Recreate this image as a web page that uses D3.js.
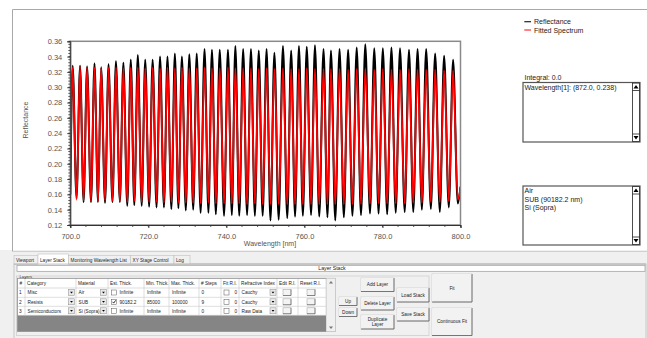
<!DOCTYPE html>
<html><head><meta charset="utf-8">
<script src="https://cdn.jsdelivr.net/npm/d3@7"></script>
<style>html,body{margin:0;padding:0;background:#fff;overflow:hidden}svg{display:block;font-family:"Liberation Sans",Arial,sans-serif}</style>
</head><body><svg id="c" width="647" height="338"></svg>
<script>
// ---------- data ----------
const seriesNames = ["Reflectance", "Fitted Spectrum"];
const xTicks = [700, 720, 740, 760, 780, 800];
const yTicks = [0.12, 0.14, 0.16, 0.18, 0.20, 0.22, 0.24, 0.26, 0.28, 0.30, 0.32, 0.34, 0.36];
const edgeWl = [700.0, 800.0];
const reflEdge = [0.160, 0.170];
const fitEdge = [0.172, 0.168];
const peakWl = [700.6,702.5,704.3,706.2,707.9,709.8,711.7,713.6,715.5,717.3,719.2,721.1,723.0,724.9,726.8,728.6,730.5,732.4,734.4,736.3,738.3,740.4,742.3,744.3,746.3,748.3,750.3,752.3,754.5,756.6,758.6,760.6,762.7,764.9,766.8,769.0,771.2,773.4,775.6,777.9,780.1,782.3,784.5,786.8,789.0,791.2,793.5,795.8,798.1];
const troughWl = [701.6,703.4,705.3,707.1,708.9,710.8,712.7,714.6,716.4,718.3,720.2,722.1,724.0,725.9,727.7,729.6,731.5,733.4,735.4,737.3,739.4,741.4,743.3,745.3,747.3,749.3,751.3,753.4,755.6,757.6,759.6,761.7,763.8,765.9,767.9,770.1,772.3,774.5,776.8,779.0,781.2,783.4,785.7,787.9,790.1,792.4,794.7,797.0,799.3];
const reflPeak = [0.328,0.328,0.327,0.331,0.326,0.330,0.334,0.332,0.336,0.342,0.336,0.336,0.340,0.340,0.344,0.340,0.343,0.344,0.350,0.349,0.349,0.349,0.354,0.350,0.350,0.348,0.350,0.345,0.354,0.348,0.354,0.353,0.355,0.350,0.348,0.350,0.349,0.352,0.356,0.351,0.351,0.352,0.351,0.349,0.350,0.350,0.344,0.341,0.336];
const reflTrough = [0.155,0.150,0.150,0.150,0.149,0.150,0.150,0.145,0.146,0.145,0.144,0.143,0.143,0.141,0.142,0.139,0.140,0.136,0.136,0.134,0.132,0.133,0.132,0.133,0.132,0.132,0.126,0.127,0.129,0.131,0.132,0.133,0.131,0.130,0.126,0.130,0.132,0.133,0.135,0.135,0.134,0.136,0.137,0.137,0.140,0.141,0.137,0.143,0.148];
const fitPeak = [0.326,0.327,0.326,0.326,0.325,0.326,0.326,0.325,0.326,0.326,0.325,0.326,0.325,0.326,0.325,0.326,0.325,0.325,0.326,0.325,0.325,0.326,0.325,0.325,0.325,0.324,0.325,0.324,0.325,0.324,0.324,0.325,0.324,0.324,0.324,0.324,0.323,0.324,0.324,0.323,0.324,0.323,0.323,0.324,0.323,0.323,0.323,0.322,0.322];
const fitTrough = [0.153,0.152,0.151,0.151,0.152,0.151,0.151,0.150,0.151,0.150,0.150,0.150,0.149,0.150,0.149,0.149,0.149,0.148,0.149,0.148,0.148,0.148,0.148,0.147,0.148,0.147,0.147,0.147,0.147,0.147,0.147,0.147,0.147,0.147,0.147,0.147,0.147,0.147,0.148,0.148,0.148,0.148,0.148,0.149,0.149,0.150,0.150,0.151,0.153];

const integralText = "Integral: 0.0";
const cursorLines = ["Wavelength[1]: (872.0, 0.238)"];
const stackLines = ["Air", "SUB (90182.2 nm)", "Si (Sopra)"];
const tabNames = ["Viewport", "Layer Stack", "Monitoring Wavelength List", "XY Stage Control", "Log"];
const tableHeaders = ["#","Category","Material","Est. Thick.","Min. Thick.","Max. Thick.","# Steps","Fit R.I.","Refractive Index","Edit R.I.","Reset R.I."];
const layerNum = ["1","2","3"];
const layerCategory = ["Misc","Resists","Semiconductors"];
const layerMaterial = ["Air","SUB","Si (Sopra)"];
const layerEstChecked = [false,true,false];
const layerEst = ["Infinite","90182.2","Infinite"];
const layerMin = ["Infinite","85000","Infinite"];
const layerMax = ["Infinite","100000","Infinite"];
const layerSteps = ["0","9","0"];
const layerFitRI = ["0","0","0"];
const layerRI = ["Cauchy","Cauchy","Raw Data"];

// ---------- build ----------
const svg = d3.select("#c");
const x = d3.scaleLinear().domain([700, 800]).range([70.3, 460.5]);
const y = d3.scaleLinear().domain([0.12, 0.36]).range([225, 41.3]);

function seriesPoints(edge, peaks, troughs) {
  const pts = [[edgeWl[0], edge[0]]];
  peakWl.forEach((w, i) => { pts.push([w, peaks[i]]); pts.push([troughWl[i], troughs[i]]); });
  pts.push([edgeWl[1], edge[1]]);
  return pts;
}
const reflPts = seriesPoints(reflEdge, reflPeak, reflTrough);
const fitPts = seriesPoints(fitEdge, fitPeak, fitTrough);

// outer chart frame
svg.append("rect").attr("x",0).attr("y",250).attr("width",647).attr("height",88).attr("fill","#f0f0f0");
svg.append("path").attr("d","M647,9.5H12.5V251").attr("fill","none").attr("stroke","#a8a8a8");

// clip
svg.append("clipPath").attr("id","pc").append("rect")
  .attr("x",70.3).attr("y",41.3).attr("width",390.2).attr("height",183.7);

const line = d3.line().x(d => x(d[0])).y(d => y(d[1])).curve(d3.curveMonotoneX);
const g = svg.append("g").attr("clip-path","url(#pc)");
g.append("path").datum(reflPts).attr("d",line).attr("fill","none").attr("stroke","#000").attr("stroke-width",2);
g.append("path").datum(fitPts).attr("d",line).attr("fill","none").attr("stroke","#ff0000").attr("stroke-width",1.8);

// frame
svg.append("rect").attr("x",70.3).attr("y",41.3).attr("width",390.2).attr("height",183.7)
  .attr("fill","none").attr("stroke","#8a8a8a").attr("stroke-width",1.5);

// minor ticks
const minorY = d3.range(0, 61).map(i => 0.12 + i * 0.004);
svg.append("g").selectAll("line").data(minorY).join("line")
  .attr("x1",68.3).attr("x2",70.3).attr("y1",d=>y(d)).attr("y2",d=>y(d)).attr("stroke","#333").attr("stroke-width",0.8);
const minorX = d3.range(0, 26).map(i => 700 + i * 4);
svg.append("g").selectAll("line").data(minorX).join("line")
  .attr("x1",d=>x(d)).attr("x2",d=>x(d)).attr("y1",225).attr("y2",227).attr("stroke","#333").attr("stroke-width",0.8);

const yAxis = svg.append("g").attr("transform","translate(70.3,0)")
  .call(d3.axisLeft(y).tickValues(yTicks).tickFormat(d3.format(".2f")).tickSize(3).tickPadding(5));
const xAxis = svg.append("g").attr("transform","translate(0,225)")
  .call(d3.axisBottom(x).tickValues(xTicks).tickFormat(d3.format(".1f")).tickSize(3).tickPadding(7));
[yAxis, xAxis].forEach(a => {
  a.select(".domain").attr("stroke","#333");
  a.selectAll(".tick line").attr("stroke","#333");
  a.selectAll(".tick text").attr("fill","#555").style("font-size","7.5px").style("font-family","Liberation Sans, Arial, sans-serif");
});
xAxis.selectAll(".tick text").attr("dy","0.55em");

svg.append("text").attr("x",270).attr("y",246).attr("text-anchor","middle")
  .style("font-size","7px").attr("fill","#555").text("Wavelength [nm]");
svg.append("text").attr("transform","translate(27.5,120) rotate(-90)").attr("text-anchor","middle")
  .style("font-size","7px").attr("fill","#555").text("Reflectance");

// legend
const legColors = ["#222", "#ff3030"];
seriesNames.forEach((n, i) => {
  const ly = 21.7 + i * 8.3;
  svg.append("line").attr("x1",524.3).attr("x2",531).attr("y1",ly).attr("y2",ly).attr("stroke",legColors[i]).attr("stroke-width",1.2);
  svg.append("text").attr("x",534).attr("y",ly+2.5).style("font-size","7px").attr("fill","#222").text(n);
});

// info boxes
svg.append("text").attr("x",524.5).attr("y",79.5).style("font-size","7px").attr("fill","#222").text(integralText);
function listBox(x0, y0, w, h, lines) {
  svg.append("rect").attr("x",x0).attr("y",y0).attr("width",w).attr("height",h).attr("fill","#fff").attr("stroke","#555").attr("stroke-width",1.2);
  const sx = x0 + w - 7.5;
  svg.append("rect").attr("x",sx).attr("y",y0+0.6).attr("width",7).attr("height",h-1.2).attr("fill","#fff").attr("stroke","#222").attr("stroke-width",0.8);
  svg.append("line").attr("x1",sx).attr("x2",sx+7).attr("y1",y0+8).attr("y2",y0+8).attr("stroke","#222").attr("stroke-width",0.8);
  svg.append("line").attr("x1",sx).attr("x2",sx+7).attr("y1",y0+h-8).attr("y2",y0+h-8).attr("stroke","#222").attr("stroke-width",0.8);
  svg.append("path").attr("d",`M${sx+3.5},${y0+2.5}L${sx+6},${y0+6}L${sx+1},${y0+6}Z`).attr("fill","#000");
  svg.append("path").attr("d",`M${sx+3.5},${y0+h-2.5}L${sx+6},${y0+h-6}L${sx+1},${y0+h-6}Z`).attr("fill","#000");
  lines.forEach((t, i) => svg.append("text").attr("x",x0+1.5).attr("y",y0+7.3+i*8.4).style("font-size","7px").attr("fill","#222").text(t));
}
listBox(523, 82.5, 117, 59.5, cursorLines);
listBox(523, 186, 117, 59, stackLines);

// ---------- bottom panel ----------
svg.append("line").attr("x1",12).attr("x2",647).attr("y1",251.5).attr("y2",251.5).attr("stroke","#d0d0d0");
const P = svg.append("g").style("font-size","4.7px").attr("fill","#222");
const tabX = [14, 38, 68.5, 130.5, 174, 190];
svg.append("line").attr("x1",14).attr("x2",646).attr("y1",264).attr("y2",264).attr("stroke","#b5b5b5");
tabNames.forEach((t, i) => {
  const sel = i === 1;
  svg.append("rect").attr("x",tabX[i]).attr("y",sel?254:255.5).attr("width",tabX[i+1]-tabX[i]).attr("height",sel?10.3:8.5)
    .attr("fill",sel?"#fff":"#f0f0f0").attr("stroke","#c0c0c0").attr("stroke-width",0.6);
  P.append("text").attr("x",tabX[i]+2).attr("y",261.8).text(t);
});
svg.append("rect").attr("x",38.3).attr("y",263.5).attr("width",29.8).attr("height",1.2).attr("fill","#fff");
svg.append("rect").attr("x",14).attr("y",264).attr("width",632).attr("height",76).attr("fill","none").attr("stroke","#b5b5b5").attr("stroke-width",0.7);
svg.append("rect").attr("x",17).attr("y",265.3).attr("width",628).attr("height",6).attr("fill","#fff").attr("stroke","#9a9a9a").attr("stroke-width",0.7);
P.append("text").attr("x",332).attr("y",270.3).attr("text-anchor","middle").style("font-size","5.2px").text("Layer Stack");

// group box
svg.append("rect").attr("x",16.5).attr("y",276).attr("width",412.5).attr("height",59.5).attr("fill","none").attr("stroke","#cfcfcf").attr("stroke-width",0.8);
svg.append("rect").attr("x",19).attr("y",274).attr("width",11).attr("height",4).attr("fill","#f0f0f0");
P.append("text").attr("x",19.5).attr("y",277.5).style("font-size","4.2px").text("Layers");

// table
const colE = [17.5, 25, 76, 108, 144, 169, 199, 221, 239, 277, 298, 326];
const rowE = [278.3, 288, 297.3, 306.3, 315.3];
svg.append("rect").attr("x",17.5).attr("y",278.3).attr("width",308.5).attr("height",37).attr("fill","#fff");
svg.append("rect").attr("x",17.5).attr("y",315.3).attr("width",308.5).attr("height",16.2).attr("fill","#858585");
const grid = svg.append("g").attr("stroke","#c8c8c8").attr("stroke-width",0.6);
colE.forEach(cx => grid.append("line").attr("x1",cx).attr("x2",cx).attr("y1",278.3).attr("y2",315.3));
rowE.forEach(ry => grid.append("line").attr("x1",17.5).attr("x2",326).attr("y1",ry).attr("y2",ry));
svg.append("rect").attr("x",17.5).attr("y",278.3).attr("width",318).attr("height",53.2).attr("fill","none").attr("stroke","#8a8a8a").attr("stroke-width",0.7);
tableHeaders.forEach((h, i) => P.append("text").attr("x",colE[i]+2).attr("y",285).text(h));

function dropBtn(bx, by) {
  svg.append("rect").attr("x",bx).attr("y",by).attr("width",6).attr("height",6).attr("fill","#e8e8e8").attr("stroke","#8a8a8a").attr("stroke-width",0.5);
  svg.append("path").attr("d",`M${bx+1.6},${by+2.3}L${bx+4.4},${by+2.3}L${bx+3},${by+4}Z`).attr("fill","#000");
}
function checkBox(bx, by, on) {
  svg.append("rect").attr("x",bx).attr("y",by).attr("width",5).attr("height",5).attr("fill","#fff").attr("stroke","#555").attr("stroke-width",0.5);
  if (on) svg.append("path").attr("d",`M${bx+1},${by+2.5}L${bx+2.2},${by+3.8}L${bx+4.2},${by+1}`).attr("fill","none").attr("stroke","#000").attr("stroke-width",0.8);
}
function smallBtn(bx, by) {
  svg.append("rect").attr("x",bx).attr("y",by).attr("width",8).attr("height",6).attr("fill","#f4f4f4").attr("stroke","#9a9a9a").attr("stroke-width",0.5);
  svg.append("path").attr("d",`M${bx},${by+6}H${bx+8}V${by}`).attr("fill","none").attr("stroke","#555").attr("stroke-width",0.6);
}
layerNum.forEach((n, r) => {
  const top = rowE[r+1], base = top + 6.3;
  P.append("text").attr("x",19).attr("y",base).text(n);
  P.append("text").attr("x",27.5).attr("y",base).text(layerCategory[r]);
  dropBtn(68.5, top+1.5);
  P.append("text").attr("x",78.5).attr("y",base).text(layerMaterial[r]);
  dropBtn(100.5, top+1.5);
  checkBox(111.5, top+2, layerEstChecked[r]);
  P.append("text").attr("x",119.5).attr("y",base).text(layerEst[r]);
  P.append("text").attr("x",147).attr("y",base).text(layerMin[r]);
  P.append("text").attr("x",172).attr("y",base).text(layerMax[r]);
  P.append("text").attr("x",201.5).attr("y",base).text(layerSteps[r]);
  checkBox(224, top+2, false);
  P.append("text").attr("x",234.5).attr("y",base).text(layerFitRI[r]);
  P.append("text").attr("x",241.5).attr("y",base).text(layerRI[r]);
  dropBtn(270, top+1.5);
  smallBtn(283, top+1.5);
  smallBtn(307, top+1.5);
});
// table scrollbar
svg.append("rect").attr("x",326.5).attr("y",278.3).attr("width",9).attr("height",53.2).attr("fill","#f0f0f0").attr("stroke","#c8c8c8").attr("stroke-width",0.5);
svg.append("path").attr("d","M331,281L333,283.5H329Z").attr("fill","#777");
svg.append("path").attr("d","M331,329L333,326.5H329Z").attr("fill","#777");

// buttons
function button(bx, by, w, h, lines) {
  svg.append("rect").attr("x",bx).attr("y",by).attr("width",w).attr("height",h).attr("fill","#f2f2f2").attr("stroke","#c4c4c4").attr("stroke-width",0.6);
  svg.append("path").attr("d",`M${bx},${by+h}H${bx+w}V${by}`).attr("fill","none").attr("stroke","#6a6a6a").attr("stroke-width",0.9);
  svg.append("path").attr("d",`M${bx+0.6},${by+h-0.6}V${by+0.6}H${bx+w-0.6}`).attr("fill","none").attr("stroke","#fff").attr("stroke-width",0.6);
  const cy = by + h / 2;
  lines.forEach((t, i) => P.append("text").attr("x",bx+w/2).attr("y",cy + 1.7 + (i - (lines.length-1)/2) * 5.4).attr("text-anchor","middle").text(t));
}
button(339, 297, 18, 8.5, ["Up"]);
button(339, 308, 18, 8.5, ["Down"]);
button(361, 278, 33, 13.5, ["Add Layer"]);
button(361, 297, 33, 13, ["Delete Layer"]);
button(361, 315, 33, 14, ["Duplicate", "Layer"]);
button(397, 288, 32, 14, ["Load Stack"]);
button(397, 308, 32, 13, ["Save Stack"]);
button(432, 274, 40, 28, ["Fit"]);
button(432, 308, 40, 27.5, ["Continuous Fit"]);

// bring panel texts above the widgets
P.raise();
</script></body></html>
